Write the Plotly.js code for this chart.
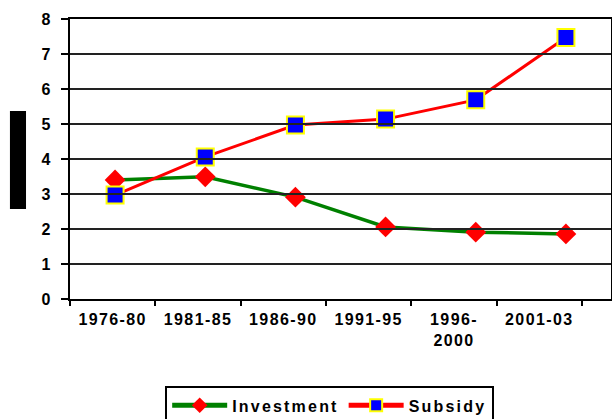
<!DOCTYPE html>
<html>
<head>
<meta charset="utf-8">
<script src="https://cdn.plot.ly/plotly-3.0.1.min.js"></script>
<style>
  html, body { margin: 0; padding: 0; background: #fff; }
  #chart { width: 612px; height: 419px; }
  .main-svg text { letter-spacing: 1.4px; }
  .legendtext { letter-spacing: 2.2px !important; }
</style>
</head>
<body>
<div id="chart"></div>
<script>
const categories = ["1976-80", "1981-85", "1986-90", "1991-95", "1996-<br>2000", "2001-03"];
const investment = [3.40, 3.49, 2.91, 2.06, 1.91, 1.86];
const subsidy = [2.97, 4.06, 4.97, 5.14, 5.69, 7.47];
const yTicks = [0, 1, 2, 3, 4, 5, 6, 7, 8];

const font = { family: "Liberation Sans, Arial, sans-serif", size: 16, color: "#000", weight: "bold" };

const traces = [
  {
    x: categories, y: categories.map(() => null), type: "scatter", mode: "markers",
    showlegend: false, hoverinfo: "skip", marker: { opacity: 0 },
    xaxis: "x2", yaxis: "y"
  },
  {
    x: categories, y: investment, name: "Investment", type: "scatter", mode: "lines+markers",
    line: { color: "#008000", width: 3.5 },
    marker: { symbol: "diamond", size: 16, color: "#ff0000" },
    xaxis: "x", yaxis: "y"
  },
  {
    x: categories, y: subsidy, name: "Subsidy", type: "scatter", mode: "lines+markers",
    line: { color: "#ff0000", width: 3 },
    marker: { symbol: "square", size: 17, color: "#0000ff", line: { color: "#ffff00", width: 2 } },
    xaxis: "x", yaxis: "y"
  }
];

const layout = {
  width: 612, height: 419,
  margin: { l: 70, r: 1, t: 19, b: 120, pad: 0, autoexpand: false },
  paper_bgcolor: "#fff", plot_bgcolor: "rgba(0,0,0,0)",
  font: font,
  showlegend: true,
  xaxis: {
    type: "category", categoryarray: categories, range: [-0.5, 5.5],
    domain: [0, 1], anchor: "y",
    showticklabels: false, ticks: "", showgrid: false, zeroline: false,
    showline: true, mirror: true, linecolor: "#000", linewidth: 2
  },
  xaxis2: {
    type: "category", categoryarray: categories, range: [-0.5, 5.5],
    domain: [0, 0.9464], anchor: "y",
    tickson: "boundaries", ticks: "outside", ticklen: 6, tickwidth: 2, tickcolor: "#000",
    showgrid: false, zeroline: false, showline: false,
    tickfont: font, ticklabelstandoff: 9
  },
  yaxis: {
    range: [0, 8], tickvals: yTicks, ticktext: yTicks.map(String),
    ticks: "outside", ticklen: 7, tickwidth: 1.5, tickcolor: "#000",
    showgrid: true, gridcolor: "#222", gridwidth: 1.5, zeroline: false,
    showline: true, mirror: true, linecolor: "#000", linewidth: 2,
    tickfont: font, ticklabelstandoff: 6
  },
  legend: {
    orientation: "h", x: 0.48, xanchor: "center", y: -0.312, yanchor: "top",
    bordercolor: "#000", borderwidth: 2, bgcolor: "#fff",
    font: font, itemwidth: 55, tracegroupgap: 0, itemsizing: "constant"
  },
  shapes: [
    { type: "rect", xref: "paper", yref: "paper", x0: -0.111, x1: -0.0813, y0: 0.321, y1: 0.671,
      fillcolor: "#000", line: { width: 0 } }
  ]
};

Plotly.newPlot("chart", traces, layout, { displayModeBar: false, staticPlot: true });
</script>
</body>
</html>
